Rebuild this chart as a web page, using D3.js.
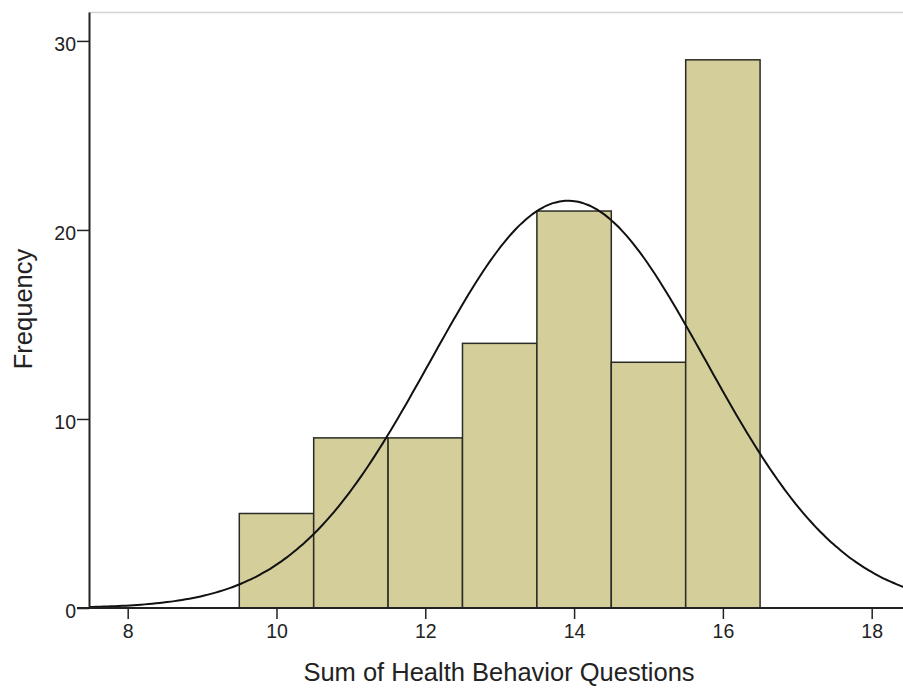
<!DOCTYPE html>
<html>
<head>
<meta charset="utf-8">
<script src="https://cdn.jsdelivr.net/npm/d3@7"></script>
<style>
  body { margin: 0; background: #fff; }
  text { font-family: Arial, "Liberation Sans", sans-serif; fill: #222; }
</style>
</head>
<body>
<div id="chart"></div>
<script>
  const w = 903;
  const h = 688;

  // bin centres and counts
  const binCenters = [10, 11, 12, 13, 14, 15, 16];
  const binCounts = [5, 9, 9, 14, 21, 13, 29];
  const xTicks = [8, 10, 12, 14, 16, 18];
  const yTicks = [0, 10, 20, 30];
  const xTitle = 'Sum of Health Behavior Questions';
  const yTitle = 'Frequency';

  const plotLeft = 89, plotTop = 12, plotBottom = 608;

  const x = d3.scaleLinear().domain([7.48, 18.5]).range([plotLeft, plotLeft + 11.02 * 74.4]);
  const y = d3.scaleLinear().domain([0, 31.53]).range([plotBottom, plotTop]);

  const svg = d3.select('#chart').append('svg')
      .attr('width', w)
      .attr('height', h);

  // light frame line on top
  svg.append('line')
      .attr('x1', plotLeft).attr('x2', w)
      .attr('y1', plotTop + 0.5).attr('y2', plotTop + 0.5)
      .style('stroke', '#d4d4d4')
      .style('stroke-width', 1.5);

  // bars
  svg.append('g').selectAll('rect')
      .data(binCenters)
    .enter().append('rect')
      .attr('x', d => x(d - 0.5))
      .attr('y', (d, i) => y(binCounts[i]))
      .attr('width', d => x(d + 0.5) - x(d - 0.5))
      .attr('height', (d, i) => y(0) - y(binCounts[i]))
      .style('fill', '#d3ce9a')
      .style('stroke', '#2b2b25')
      .style('stroke-width', 1.5);

  // normal curve from the binned data
  const n = d3.sum(binCounts);
  const mean = d3.sum(binCenters, (d, i) => d * binCounts[i]) / n;
  const sd = Math.sqrt(d3.sum(binCenters, (d, i) => binCounts[i] * (d - mean) ** 2) / (n - 1));
  const curveX = d3.range(7.48, 18.55, 0.05);
  const dens = v => n * Math.exp(-0.5 * ((v - mean) / sd) ** 2) / (sd * Math.sqrt(2 * Math.PI));

  svg.append('path')
      .datum(curveX)
      .attr('d', d3.line().x(d => x(d)).y(d => y(dens(d))).curve(d3.curveBasis))
      .style('fill', 'none')
      .style('stroke', '#111')
      .style('stroke-width', 2);

  // axes
  const xAxis = svg.append('g')
      .attr('transform', 'translate(0,' + plotBottom + ')')
      .call(d3.axisBottom(x).tickValues(xTicks).tickSize(11).tickSizeOuter(0).tickPadding(5));

  const yAxis = svg.append('g')
      .attr('transform', 'translate(' + plotLeft + ',0)')
      .call(d3.axisLeft(y).tickValues(yTicks).tickSize(12).tickSizeOuter(0).tickPadding(1));

  [xAxis, yAxis].forEach(a => {
    a.attr('font-size', null).attr('font-family', null);
    a.select('.domain').style('stroke', '#222').style('stroke-width', 2);
    a.selectAll('.tick line').style('stroke', '#222').style('stroke-width', 1.5);
    a.selectAll('.tick text')
        .style('font-size', '19.5px')
        .style('fill', '#222');
  });
  yAxis.selectAll('.tick text').attr('dy', '0.5em');
  xAxis.select('.domain').attr('d', 'M' + (plotLeft - 12) + ',0H' + w);

  svg.append('text')
      .attr('x', 499)
      .attr('y', 681)
      .attr('text-anchor', 'middle')
      .style('font-size', '25.5px')
      .text(xTitle);

  svg.append('text')
      .attr('transform', 'translate(32,309) rotate(-90)')
      .attr('text-anchor', 'middle')
      .style('font-size', '25.5px')
      .text(yTitle);
</script>
</body>
</html>
